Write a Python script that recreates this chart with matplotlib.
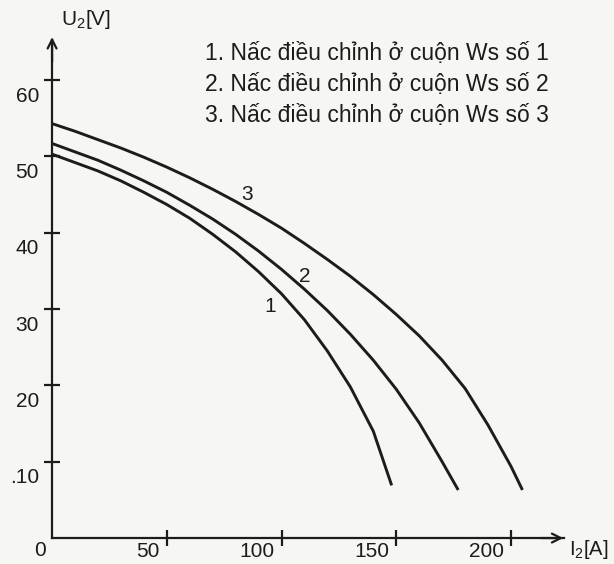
import matplotlib
matplotlib.use("Agg")
import matplotlib.pyplot as plt
from matplotlib.transforms import ScaledTranslation

plt.rcParams['font.family'] = ['Liberation Sans', 'DejaVu Sans']
plt.rcParams['mathtext.fontset'] = 'custom'
plt.rcParams['mathtext.rm'] = 'Liberation Sans'

# ---- data ----
i1 = [0, 10, 20, 30, 40, 50, 60, 70, 80, 90, 100, 110, 120, 130, 140, 148]
u1 = [50.3, 49.2, 48.1, 46.8, 45.3, 43.7, 41.9, 39.8, 37.5, 34.9, 32.0, 28.6,
      24.5, 19.8, 14.0, 6.9]

i2 = [0, 10, 20, 30, 40, 50, 60, 70, 80, 90, 100, 110, 120, 130, 140, 150,
      160, 170, 177]
u2 = [51.7, 50.6, 49.5, 48.2, 46.8, 45.3, 43.6, 41.8, 39.8, 37.6, 35.2, 32.6,
      29.8, 26.7, 23.3, 19.5, 15.1, 10.0, 6.3]

i3 = [0, 10, 20, 30, 40, 50, 60, 70, 80, 90, 100, 110, 120, 130, 140, 150,
      160, 170, 180, 190, 200, 205]
u3 = [54.3, 53.3, 52.2, 51.1, 49.9, 48.6, 47.2, 45.7, 44.1, 42.4, 40.6, 38.6,
      36.5, 34.3, 31.9, 29.3, 26.5, 23.3, 19.6, 14.8, 9.4, 6.3]

curve_ids = ["1", "2", "3"]
curve_label_pos = [(95, 30.4), (110, 34.3), (85, 45.0)]

x_ticks = [50, 100, 150, 200]
x_tick_labels = ["50", "100", "150", "200"]
y_ticks = [10, 20, 30, 40, 50, 60]
y_tick_labels = [".10", "20", "30", "40", "50", "60"]

legend_lines = ["1. Nấc điều chỉnh ở cuộn Ws số 1",
                "2. Nấc điều chỉnh ở cuộn Ws số 2",
                "3. Nấc điều chỉnh ở cuộn Ws số 3"]

ink = '#1c1c1c'
bg = '#f6f6f3'

fig = plt.figure(figsize=(6.14, 5.64), dpi=100, facecolor=bg)
ax = fig.add_axes([0, 0, 1, 1])
ax.set_facecolor(bg)
ax.set_xlim(-22.7, 244.9)
ax.set_ylim(-3.4, 70.5)

for xs, ys in [(i1, u1), (i2, u2), (i3, u3)]:
    ax.plot(xs, ys, color=ink, lw=2.1, solid_capstyle='butt', solid_joinstyle='round')

for cid, (cx, cy) in zip(curve_ids, curve_label_pos):
    ax.text(cx, cy, cid, fontsize=15, color=ink, ha='center', va='center')

# axes
for s in ['top', 'right']:
    ax.spines[s].set_visible(False)
ax.spines['left'].set_position(('data', 0))
ax.spines['bottom'].set_position(('data', 0))
ax.spines['left'].set_bounds(0, 65.3)
ax.spines['bottom'].set_bounds(0, 223)
for s in ['left', 'bottom']:
    ax.spines[s].set_linewidth(1.6)
    ax.spines[s].set_color(ink)

ax.annotate('', xy=(0, 66.0), xytext=(0, 62),
            arrowprops=dict(arrowstyle='->', color=ink, lw=1.6, mutation_scale=16))
ax.annotate('', xy=(224, 0), xytext=(212, 0),
            arrowprops=dict(arrowstyle='->', color=ink, lw=1.6, mutation_scale=16))

ax.set_xticks(x_ticks, x_tick_labels)
ax.set_yticks(y_ticks, y_tick_labels)
ax.tick_params(axis='both', direction='inout', length=11, width=1.6, color=ink,
               labelsize=15, labelcolor=ink)
ax.tick_params(axis='x', pad=0)
ax.tick_params(axis='y', pad=4)

dpi_tr = fig.dpi_scale_trans
for lab in ax.get_xticklabels():
    lab.set_horizontalalignment('right')
    lab.set_transform(lab.get_transform() + ScaledTranslation(-0.07, 0.04, dpi_tr))
for lab in ax.get_yticklabels():
    lab.set_transform(lab.get_transform() + ScaledTranslation(0.0, -0.14, dpi_tr))

ax.text(-2.5, -0.4, "0", fontsize=15, color=ink, ha='right', va='top')

ax.text(4, 67.9, r'U$_\mathregular{2}$[V]', fontsize=15, color=ink, ha='left', va='center')
ax.text(225.5, -1.5, r'I$_\mathregular{2}$[A]', fontsize=14.5, color=ink, ha='left', va='center')

for k, (line, yb) in enumerate(zip(legend_lines, [62.6, 58.6, 54.5])):
    ax.text(66.5, yb, line, fontsize=16.5, color=ink, ha='left', va='baseline')

fig.savefig('out.png', dpi=100, facecolor=bg)
